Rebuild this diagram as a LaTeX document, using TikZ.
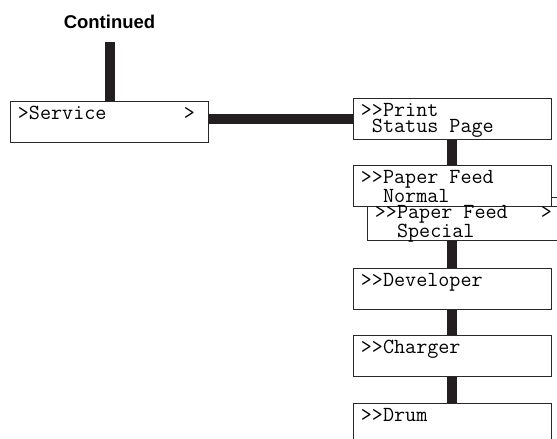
\documentclass[tikz,border=0pt]{standalone}
\usepackage{fontspec}
\newfontfamily\headfont{Liberation Sans}
\usetikzlibrary{positioning}
\definecolor{mybarblack}{RGB}{35,31,32}
\definecolor{myboxline}{RGB}{40,40,40}

\begin{document}
\begin{tikzpicture}[x=1pt, y=-1pt,
  menubox/.style={draw=myboxline, line width=0.8pt, anchor=north west, minimum width=198pt,
    inner xsep=7.5pt, inner ysep=0pt, text width=183pt, align=left,
    text height=18pt, text depth=23pt, font=\ttfamily\fontsize{21.5}{16.5}\selectfont},
  subbox/.style={menubox, text height=12pt, text depth=22pt},
  bar/.style={line width=10pt, mybarblack}]
\useasboundingbox (0,0) rectangle (557,439);
\clip (0,0) rectangle (557,439);
% Heading
\node[font=\headfont\bfseries\fontsize{18.5}{20}\selectfont, anchor=base] (continued) at (109.5,28) {Continued};
% Menu boxes
\node[menubox] (service) at (10,101) {>Service\phantom{>>>>>>>}>};
\node[menubox] (print) at (353,98) {>>Print\\\phantom{>}Status\phantom{>}Page};
\node[menubox] (normal) at (353,165) {>>Paper\phantom{>}Feed\\\phantom{>>}Normal};
\node[subbox] (special) at (367,206) {>>Paper\phantom{>}Feed\phantom{>>>}>\\\phantom{>>}Special};
\node[menubox] (developer) at (353,268) {>>Developer};
\node[menubox] (charger) at (353,335) {>>Charger};
\node[menubox] (drum) at (353,403) {>>Drum};
% Connectors
\draw[bar, shorten <=10.5pt] (continued.south) -- (continued.south |- service.north);
\draw[bar] (print.west -| service.east) -- (print.west);
\foreach \a/\b in {print/normal, special/developer, developer/charger, charger/drum} {
    \draw[bar] (\a.south -| \b.north) -- (\b.north);
}
\coordinate (normal stub) at (562,197.5);
\draw[myboxline, line width=0.8pt] (normal stub -| normal.east) -- (normal stub);
\end{tikzpicture}
\end{document}
